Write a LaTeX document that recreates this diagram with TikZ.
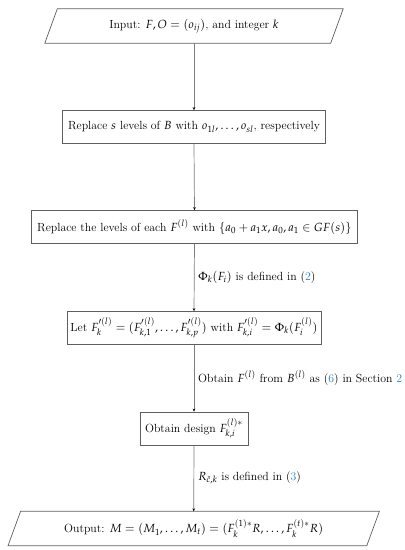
\documentclass[tikz,border=0pt]{standalone}
\usepackage{mathpazo}
\usetikzlibrary{arrows.meta}
\definecolor{refblue}{RGB}{40,130,200}
\definecolor{boxline}{RGB}{95,95,95}
\definecolor{conline}{RGB}{125,125,125}
\begin{document}
\begin{tikzpicture}[x=1pt,y=-1pt,
  txt/.style={font=\fontsize{11.8}{14}\selectfont},
  box/.style={txt, draw=boxline, line width=0.7pt, minimum height=33pt, inner sep=1pt},
  io/.style={txt, minimum height=34pt, inner sep=0pt},
  para/.style={draw=boxline, line width=0.7pt},
  conn/.style={draw=conline, line width=0.7pt, -{Stealth[length=3pt,width=2.6pt,black]}},
  lab/.style={txt, anchor=west, inner sep=0pt}]
\useasboundingbox (0,0) rectangle (405,550);
% nodes
\node[io, minimum width=298pt] (in) at (194,26) {Input: $F, O=(o_{ij})$, and integer $k$};
\draw[para] ([xshift=12.5pt]in.north west) -- (in.north east) -- ([xshift=-12.5pt]in.south east) -- (in.south west) -- cycle;
\node[box, minimum width=263pt] (b2) at (194,127) {Replace $s$ levels of $B$ with $o_{1l},\ldots,o_{sl}$, respectively};
\node[box, minimum width=326pt] (b3) at (194.5,227) {Replace the levels of each $F^{(l)}$ with $\{a_0+a_1x, a_0, a_1\in GF(s)\}$};
\node[box, minimum width=254pt] (b4) at (194,328) {Let $F_k'^{(l)}=(F_{k,1}'^{(l)},\ldots,F_{k,p}'^{(l)})$ with $F_{k,i}'^{(l)}=\Phi_k(F_i^{(l)})$};
\node[box, minimum width=108pt] (b5) at (194,428.5) {Obtain design $F_{k,i}^{(l)*}$};
\node[io, minimum width=371pt] (out) at (193.7,528.5) {Output: $M=(M_1,\ldots,M_t)=(F_k^{(1)*}R,\ldots,F_k^{(t)*}R)$};
\draw[para] ([xshift=12.6pt]out.north west) -- (out.north east) -- ([xshift=-12.6pt]out.south east) -- (out.south west) -- cycle;
% connectors
\draw[conn] (in.south) -- (b2.north);
\draw[conn] (b2.south) -- (b3.north);
\draw[conn] (b3.south) -- (b4.north);
\draw[conn] (b4.south) -- (b5.north);
\draw[conn] (b5.south) -- (out.north);
% labels
\node[lab] (l1) at (198,277) {$\Phi_k(F_i)$ is defined in ({\color{refblue}2})};
\node[lab] (l2) at (198,378) {Obtain $F^{(l)}$ from $B^{(l)}$ as ({\color{refblue}6}) in Section {\color{refblue}2}};
\node[lab] (l3) at (198,478) {$R_{\check{c},k}$ is defined in ({\color{refblue}3})};
\end{tikzpicture}
\end{document}
